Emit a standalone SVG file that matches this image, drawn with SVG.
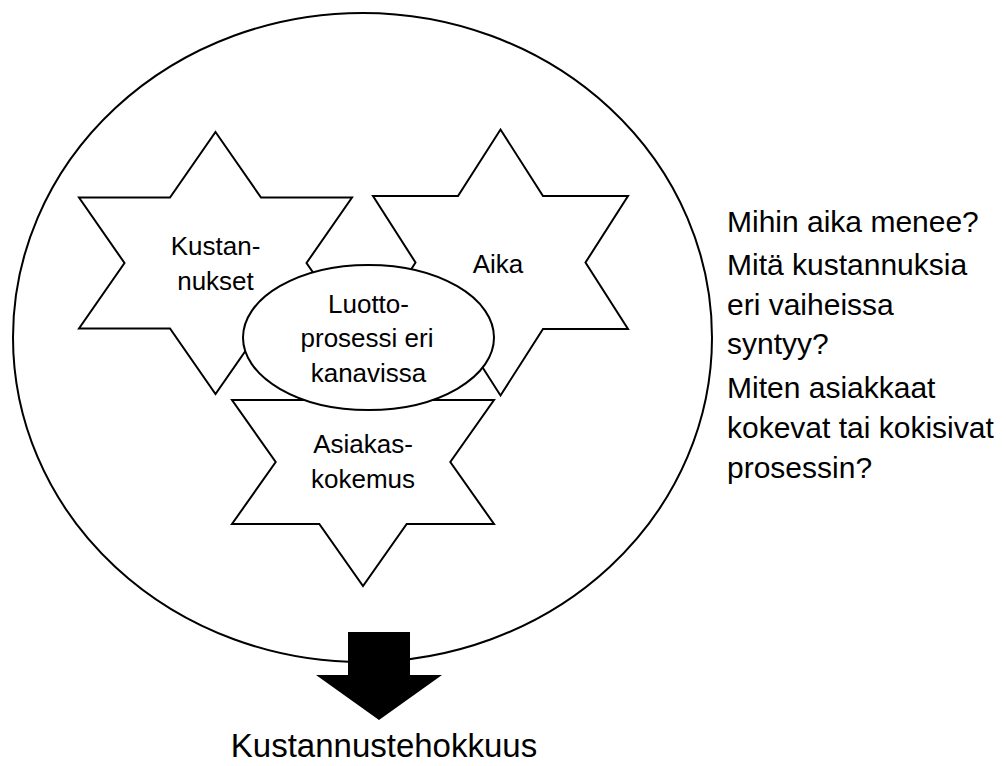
<svg xmlns="http://www.w3.org/2000/svg" width="1006" height="766" viewBox="0 0 1006 766">
  <style>
    .shape { fill: #ffffff; stroke: #000000; stroke-width: 2; stroke-linejoin: miter; }
    .label { font-family: "Liberation Sans", Arial, sans-serif; font-size: 26px; fill: #000000; text-anchor: middle; }
    .note { font-family: "Liberation Sans", Arial, sans-serif; font-size: 30px; fill: #000000; }
    .result { font-family: "Liberation Sans", Arial, sans-serif; font-size: 33px; fill: #000000; text-anchor: middle; }
  </style>
  <rect x="0" y="0" width="1006" height="766" fill="#ffffff"/>

  <!-- outer boundary -->
  <g id="outer-boundary">
    <ellipse class="shape" cx="362.5" cy="337.5" rx="349.5" ry="324.5"/>
  </g>

  <!-- six-point stars -->
  <g id="star-kustannukset">
    <polygon class="shape" points="215.5,132 261,197.5 352,197.5 306.5,263 352,328.5 261,328.5 215.5,394 170,328.5 79,328.5 124.5,263 79,197.5 170,197.5"/>
    <text class="label" x="215.5" y="255">Kustan-</text>
    <text class="label" x="215.5" y="290">nukset</text>
  </g>

  <g id="star-aika">
    <polygon class="shape" points="500.5,129.5 543,196 628,196 585.5,262.5 628,329 543,329 500.5,395.5 458,329 373,329 415.5,262.5 373,196 458,196"/>
    <text class="label" x="498" y="273">Aika</text>
  </g>

  <g id="star-asiakaskokemus">
    <polygon class="shape" points="363,338 406.7,400 494,400 450.3,462 494,524 406.7,524 363,586 319.3,524 232,524 275.7,462 232,400 319.3,400"/>
    <text class="label" x="363" y="453">Asiakas-</text>
    <text class="label" x="363" y="488">kokemus</text>
  </g>

  <!-- centre ellipse -->
  <g id="luottoprosessi">
    <ellipse class="shape" cx="368.5" cy="337.5" rx="125.5" ry="72.5"/>
    <text class="label" x="368.5" y="313">Luotto-</text>
    <text class="label" x="367" y="347">prosessi eri</text>
    <text class="label" x="368.5" y="382">kanavissa</text>
  </g>

  <!-- block arrow towards the outcome -->
  <g id="connectors">
    <polygon fill="#000000" points="348,632 410,632 410,675 442,675 379,720 316,675 348,675"/>
  </g>

  <g id="outcome">
    <text class="result" x="384" y="757">Kustannustehokkuus</text>
  </g>

  <!-- questions -->
  <g id="questions">
    <text class="note" x="727" y="232">Mihin aika menee?</text>
    <text class="note" x="727" y="275">Mitä kustannuksia</text>
    <text class="note" x="727" y="315">eri vaiheissa</text>
    <text class="note" x="727" y="354">syntyy?</text>
    <text class="note" x="727" y="398">Miten asiakkaat</text>
    <text class="note" x="727" y="438">kokevat tai kokisivat</text>
    <text class="note" x="727" y="478">prosessin?</text>
  </g>
</svg>
